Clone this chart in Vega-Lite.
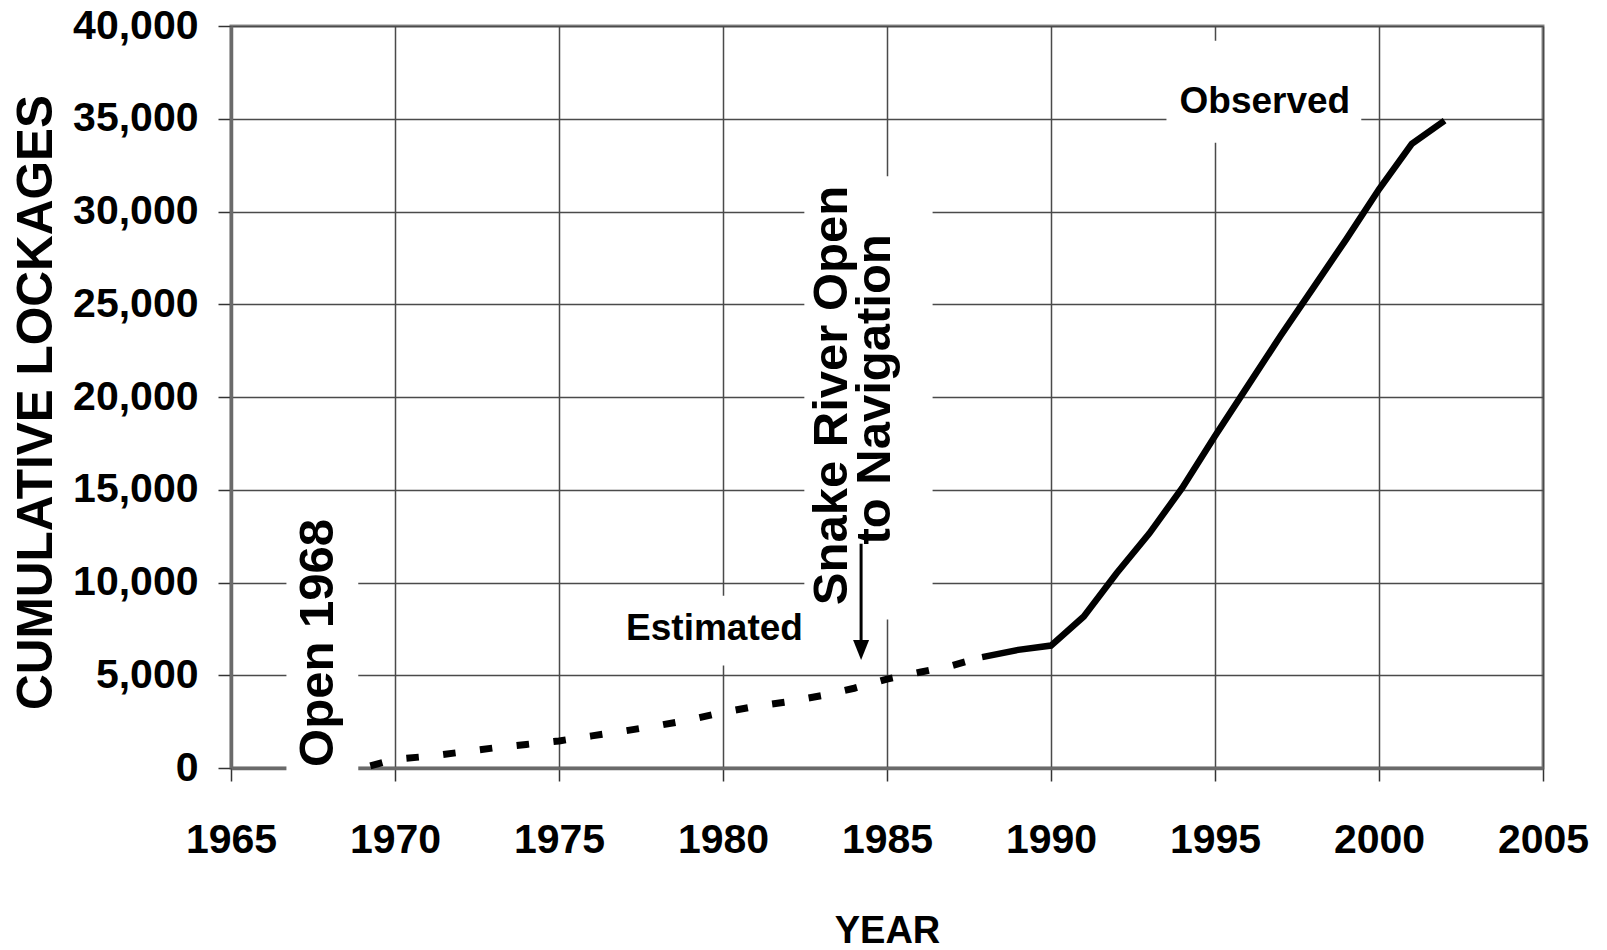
{
  "$schema": "https://vega.github.io/schema/vega-lite/v6.json",
  "width": 1312,
  "height": 742,
  "autosize": {"type": "none"},
  "padding": {"left": 231, "top": 26, "right": 64, "bottom": 182},
  "background": "white",
  "config": {
    "view": {"stroke": "#8a8a8a", "strokeWidth": 3},
    "axis": {
      "grid": true,
      "gridColor": "#4a4a4a",
      "gridWidth": 1.5,
      "domainColor": "#6a6a6a",
      "domainWidth": 3.5,
      "tickColor": "#333333",
      "tickWidth": 1.5,
      "tickSize": 13,
      "labelColor": "#000000",
      "labelFont": "Liberation Sans, Arial, sans-serif",
      "labelFontWeight": "bold",
      "labelFontSize": 41,
      "labelOverlap": false,
      "labelFlush": false,
      "titleColor": "#000000",
      "titleFontWeight": "bold"
    }
  },
  "datasets": {
    "estimated": [
      {"year": 1969.1, "value": 40},
      {"year": 1970, "value": 470},
      {"year": 1971, "value": 630},
      {"year": 1972, "value": 850},
      {"year": 1973, "value": 1080},
      {"year": 1974, "value": 1270},
      {"year": 1975, "value": 1460},
      {"year": 1976, "value": 1730},
      {"year": 1977, "value": 2000},
      {"year": 1978, "value": 2280},
      {"year": 1979, "value": 2600},
      {"year": 1980, "value": 3000},
      {"year": 1981, "value": 3330},
      {"year": 1982, "value": 3580},
      {"year": 1983, "value": 3900},
      {"year": 1984, "value": 4300},
      {"year": 1985, "value": 4790},
      {"year": 1986, "value": 5160},
      {"year": 1987, "value": 5530},
      {"year": 1987.9, "value": 5980}
    ],
    "observed": [
      {"year": 1987.9, "value": 5980},
      {"year": 1989, "value": 6370},
      {"year": 1990, "value": 6600},
      {"year": 1991, "value": 8170},
      {"year": 1992, "value": 10500},
      {"year": 1993, "value": 12650},
      {"year": 1994, "value": 15100},
      {"year": 1995, "value": 17900},
      {"year": 1996, "value": 20600},
      {"year": 1997, "value": 23300},
      {"year": 1998, "value": 25900},
      {"year": 1999, "value": 28500},
      {"year": 2000, "value": 31200},
      {"year": 2001, "value": 33650},
      {"year": 2002, "value": 34900}
    ],
    "boxes": [
      {"name": "open", "year": 1966.69, "year2": 1968.88, "value": 14000, "value2": -400},
      {"name": "estimated", "year": 1976.87, "year2": 1982.5, "value": 9290, "value2": 5530},
      {"name": "snake", "year": 1982.48, "year2": 1986.39, "value": 31900, "value2": 8000},
      {"name": "observed", "year": 1993.52, "year2": 1999.46, "value": 39200, "value2": 33700}
    ],
    "arrow": [
      {"year": 1984.21, "value": 12090, "value2": 6700}
    ],
    "arrowhead": [
      {"year": 1984.21, "value": 6360}
    ],
    "rotated": [
      {"label": "Open 1968", "year": 1968.12, "value": 6740},
      {"label": "Snake River Open", "year": 1983.78, "value": 20080},
      {"label": "to Navigation", "year": 1985.1, "value": 20410}
    ],
    "flat": [
      {"label": "Estimated", "year": 1979.74, "value": 6880},
      {"label": "Observed", "year": 1996.52, "value": 35300}
    ]
  },
  "encoding": {
    "x": {
      "field": "year",
      "type": "quantitative",
      "scale": {"domain": [1965, 2005], "nice": false, "zero": false},
      "axis": {
        "values": [1965, 1970, 1975, 1980, 1985, 1990, 1995, 2000, 2005],
        "format": "d",
        "labelPadding": 39,
        "labelBaseline": "top",
        "title": "YEAR",
        "titleFont": "Liberation Sans, Arial, sans-serif",
        "titleFontSize": 38,
        "titleY": 174,
        "titleBaseline": "alphabetic"
      }
    },
    "y": {
      "field": "value",
      "type": "quantitative",
      "scale": {"domain": [0, 40000], "nice": false, "zero": false},
      "axis": {
        "values": [0, 5000, 10000, 15000, 20000, 25000, 30000, 35000, 40000],
        "format": ",d",
        "labelPadding": 20,
        "title": "CUMULATIVE LOCKAGES",
        "titleFont": "Liberation Sans, Arial, sans-serif",
        "titleFontSize": 49.5,
        "titleAngle": 270,
        "titleX": -180,
        "titleY": 376,
        "titleAlign": "center",
        "titleBaseline": "alphabetic"
      }
    }
  },
  "layer": [
    {
      "data": {"name": "boxes"},
      "mark": {"type": "rect", "fill": "white", "strokeWidth": 0},
      "encoding": {
        "x2": {"field": "year2"},
        "y2": {"field": "value2"}
      }
    },
    {
      "data": {"name": "estimated"},
      "mark": {"type": "line", "color": "black", "strokeWidth": 7, "strokeDash": [12.5, 24.5], "strokeDashOffset": 32, "strokeCap": "butt"},
      "encoding": {}
    },
    {
      "data": {"name": "observed"},
      "mark": {"type": "line", "color": "black", "strokeWidth": 6.5, "strokeCap": "butt"},
      "encoding": {}
    },
    {
      "data": {"name": "arrow"},
      "mark": {"type": "rule", "color": "black", "strokeWidth": 3},
      "encoding": {
        "y2": {"field": "value2"}
      }
    },
    {
      "data": {"name": "arrowhead"},
      "mark": {"type": "point", "shape": "M-0.8,-1L0.8,-1L0,1Z", "filled": true, "fill": "black", "opacity": 1, "size": 400, "strokeWidth": 0}
    },
    {
      "data": {"name": "rotated"},
      "mark": {"type": "text", "angle": 270, "align": "center", "baseline": "alphabetic", "font": "Liberation Sans, Arial, sans-serif", "fontWeight": "bold", "fontSize": 49, "color": "black"},
      "encoding": {
        "text": {"field": "label"}
      }
    },
    {
      "data": {"name": "flat"},
      "mark": {"type": "text", "align": "center", "baseline": "alphabetic", "font": "Liberation Sans, Arial, sans-serif", "fontWeight": "bold", "fontSize": 37, "color": "black"},
      "encoding": {
        "text": {"field": "label"}
      }
    }
  ]
}
